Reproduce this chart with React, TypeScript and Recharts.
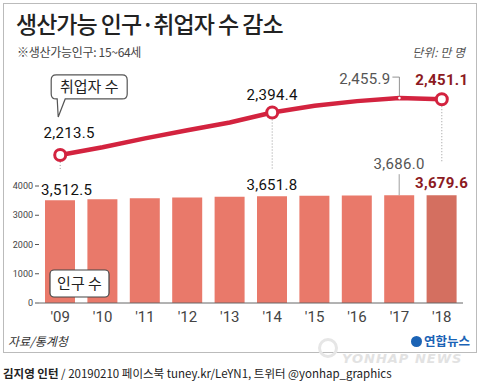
import React from 'react';
import { ComposedChart, Bar, Line, XAxis, YAxis, LabelList, Cell } from 'recharts';

// 연도별 생산가능인구(15~64세)와 취업자 수, 단위: 만 명
const years = ["'09", "'10", "'11", "'12", "'13", "'14", "'15", "'16", "'17", "'18"];
const population = [3512.5, 3545, 3579, 3609, 3632, 3651.8, 3667, 3679, 3686.0, 3679.6];
const employed = [2213.5, 2246, 2284, 2319, 2352, 2394.4, 2423, 2443, 2455.9, 2451.1];
const popTicks = [0, 1000, 2000, 3000, 4000];

const data = years.map((year, i) => ({ year, population: population[i], employed: employed[i] }));

const RED = '#d3233f';
const DARK_RED = '#8c1a22';
const BAR = '#e9796a';
const BAR_LAST = '#d46f60';
const NUM_FONT = 'Roboto, "Liberation Sans", sans-serif';
const KR_FONT = '"Noto Sans CJK KR", sans-serif';

const fmt = (v: number) =>
  v.toLocaleString('en-US', { minimumFractionDigits: 1, maximumFractionDigits: 1 });

const numStyle = { fontFamily: NUM_FONT, fontSize: 15, letterSpacing: 0.3 };

const EmployedLabel = (props: any) => {
  const { x, y, value, index } = props;
  if (index === 0) {
    const l = x - 9, t = y - 80, r = x + 67, b = y - 56, rad = 5;
    return (
      <g>
        <text x={x + 9} y={y - 17} textAnchor="middle" fill="#111" style={numStyle}>{fmt(value)}</text>
        <line x1={x} x2={x} y1={y + 7} y2={y + 14} stroke="#999" strokeDasharray="1 2" />
        <path
          d={`M${l + rad},${t} H${r - rad} Q${r},${t} ${r},${t + rad} V${b - rad} Q${r},${b} ${r - rad},${b} H${x + 5} L${x - 2},${y - 38} L${x - 3},${b} H${l + rad} Q${l},${b} ${l},${b - rad} V${t + rad} Q${l},${t} ${l + rad},${t} Z`}
          fill="#fff" stroke="#555" strokeWidth={1.2}
        />
        <text x={(l + r) / 2} y={t + 17} textAnchor="middle" fill="#222" style={{ fontFamily: KR_FONT, fontSize: 15 }}>취업자 수</text>
      </g>
    );
  }
  if (index === 5) {
    return (
      <g>
        <text x={x} y={y - 13} textAnchor="middle" fill="#111" style={numStyle}>{fmt(value)}</text>
        <line x1={x} x2={x} y1={y + 7} y2={y + 57} stroke="#999" strokeDasharray="1 2" />
      </g>
    );
  }
  if (index === 8) {
    return (
      <g>
        <text x={x - 9} y={y - 14} textAnchor="end" fill="#555" style={numStyle}>{fmt(value)}</text>
        <path d={`M${x - 7},${y - 21} H${x} V${y - 2}`} fill="none" stroke="#777" strokeWidth={0.8} />
        <circle cx={x} cy={y} r={1.3} fill="#fff" />
      </g>
    );
  }
  if (index === 9) {
    return (
      <g>
        <text x={x} y={y - 14} textAnchor="middle" fill={DARK_RED} fontWeight="bold" style={numStyle}>{fmt(value)}</text>
        <line x1={x} x2={x} y1={y + 7} y2={y + 64} stroke="#999" strokeDasharray="1 2" />
      </g>
    );
  }
  return null;
};

const PopulationLabel = (props: any) => {
  const { x, y, width, height, value, index } = props;
  const cx = x + width / 2;
  if (index === 0) {
    const bottom = y + height;
    return (
      <g>
        <text x={x - 4} y={y - 5} textAnchor="start" fill="#111" style={numStyle}>{fmt(value)}</text>
        <rect x={x + 5} y={bottom - 33} width={59} height={27} rx={4} fill="#fff" stroke="#444" strokeWidth={1.2} />
        <text x={x + 34.5} y={bottom - 14} textAnchor="middle" fill="#222" style={{ fontFamily: KR_FONT, fontSize: 15 }}>인구 수</text>
      </g>
    );
  }
  if (index === 5) {
    return <text x={cx} y={y - 6} textAnchor="middle" fill="#111" style={numStyle}>{fmt(value)}</text>;
  }
  if (index === 8) {
    return (
      <g>
        <text x={cx} y={y - 26} textAnchor="middle" fill="#555" style={numStyle}>{fmt(value)}</text>
        <line x1={cx} x2={cx} y1={y - 21} y2={y} stroke="#888" strokeWidth={0.8} />
      </g>
    );
  }
  if (index === 9) {
    return <text x={cx} y={y - 7} textAnchor="middle" fill={DARK_RED} fontWeight="bold" style={numStyle}>{fmt(value)}</text>;
  }
  return null;
};

const EmployedDot = (props: any) => {
  const { cx, cy, index } = props;
  if (index === 0 || index === 5 || index === 9) {
    return <circle key={`d${index}`} cx={cx} cy={cy} r={5.5} fill="#fff" stroke={RED} strokeWidth={3} />;
  }
  return <g key={`d${index}`} />;
};

export default function App() {
  return (
    <div style={{ position: 'absolute', left: 0, top: 0, width: 480, height: 381, background: '#fff', overflow: 'hidden' }}>
      <div style={{ position: 'absolute', left: 3, top: 3, width: 472, height: 348, border: '1px solid #bbb' }} />
      <div style={{ position: 'absolute', left: 16, top: 6, fontFamily: KR_FONT, fontSize: 23, letterSpacing: -1, color: '#222', fontWeight: 500, whiteSpace: 'nowrap' }}>
        생산가능 인구·취업자 수 감소
      </div>
      <div style={{ position: 'absolute', left: 17, top: 43, fontFamily: KR_FONT, fontSize: 12, color: '#444', whiteSpace: 'nowrap', letterSpacing: -0.3 }}>
        ※생산가능인구: 15~64세
      </div>
      <div style={{ position: 'absolute', right: 15, top: 43, fontFamily: KR_FONT, fontSize: 12, color: '#555', fontStyle: 'italic', whiteSpace: 'nowrap' }}>
        단위: 만 명
      </div>

      <ComposedChart
        width={480}
        height={381}
        data={data}
        margin={{ top: 69, right: 17, left: 9, bottom: 48 }}
        style={{ position: 'absolute', left: 0, top: 0 }}
      >
        <XAxis
          dataKey="year"
          tickLine={false}
          axisLine={{ stroke: '#666' }}
          tick={{ fontSize: 15, fill: '#444', fontFamily: NUM_FONT }}
          height={30}
          interval={0}
        />
        <YAxis
          yAxisId="pop"
          domain={[0, 8000]}
          ticks={popTicks}
          width={30}
          interval={0}
          axisLine={false}
          tickLine={{ stroke: '#555' }}
          tickSize={4}
          tick={{ fontSize: 9, fill: '#444', fontFamily: NUM_FONT }}
        />
        <YAxis yAxisId="emp" orientation="right" domain={[1582, 2580]} hide />
        <Bar yAxisId="pop" dataKey="population" barSize={30} isAnimationActive={false}>
          {data.map((_, i) => (
            <Cell key={i} fill={i === data.length - 1 ? BAR_LAST : BAR} />
          ))}
          <LabelList dataKey="population" content={PopulationLabel} />
        </Bar>
        <Line
          yAxisId="emp"
          dataKey="employed"
          type="linear"
          stroke={RED}
          strokeWidth={4.5}
          dot={EmployedDot}
          activeDot={false}
          isAnimationActive={false}
        >
          <LabelList dataKey="employed" content={EmployedLabel} />
        </Line>
      </ComposedChart>

      <div style={{ position: 'absolute', left: 8, top: 332, fontFamily: KR_FONT, fontSize: 12, color: '#333', fontStyle: 'italic' }}>
        자료/통계청
      </div>
      <div style={{ position: 'absolute', left: 318, top: 338, width: 20, height: 20, borderRadius: 10, border: '3px solid #e6e6e6', boxSizing: 'border-box' }} />
      <div style={{ position: 'absolute', left: 342, top: 353, lineHeight: '12px', fontFamily: '"DejaVu Sans", sans-serif', fontSize: 13, fontWeight: 'bold', fontStyle: 'italic', color: '#e2e2e2', letterSpacing: 1, whiteSpace: 'nowrap' }}>
        YONHAP NEWS
      </div>
      <div style={{ position: 'absolute', left: 411, top: 334, lineHeight: '13px', fontFamily: KR_FONT, fontSize: 12.5, fontWeight: 'bold', color: '#1b63b5', whiteSpace: 'nowrap' }}>
        <span style={{ display: 'inline-block', width: 11, height: 11, borderRadius: 6, background: '#1b63b5', marginRight: 2, verticalAlign: -1 }} />
        연합뉴스
      </div>
      <div style={{ position: 'absolute', left: 3, top: 366, lineHeight: '14px', fontFamily: KR_FONT, fontSize: 11.5, color: '#222', whiteSpace: 'nowrap', letterSpacing: 0 }}>
        <b>김지영 인턴</b> / 20190210 페이스북 tuney.kr/LeYN1, 트위터 @yonhap_graphics
      </div>
    </div>
  );
}
